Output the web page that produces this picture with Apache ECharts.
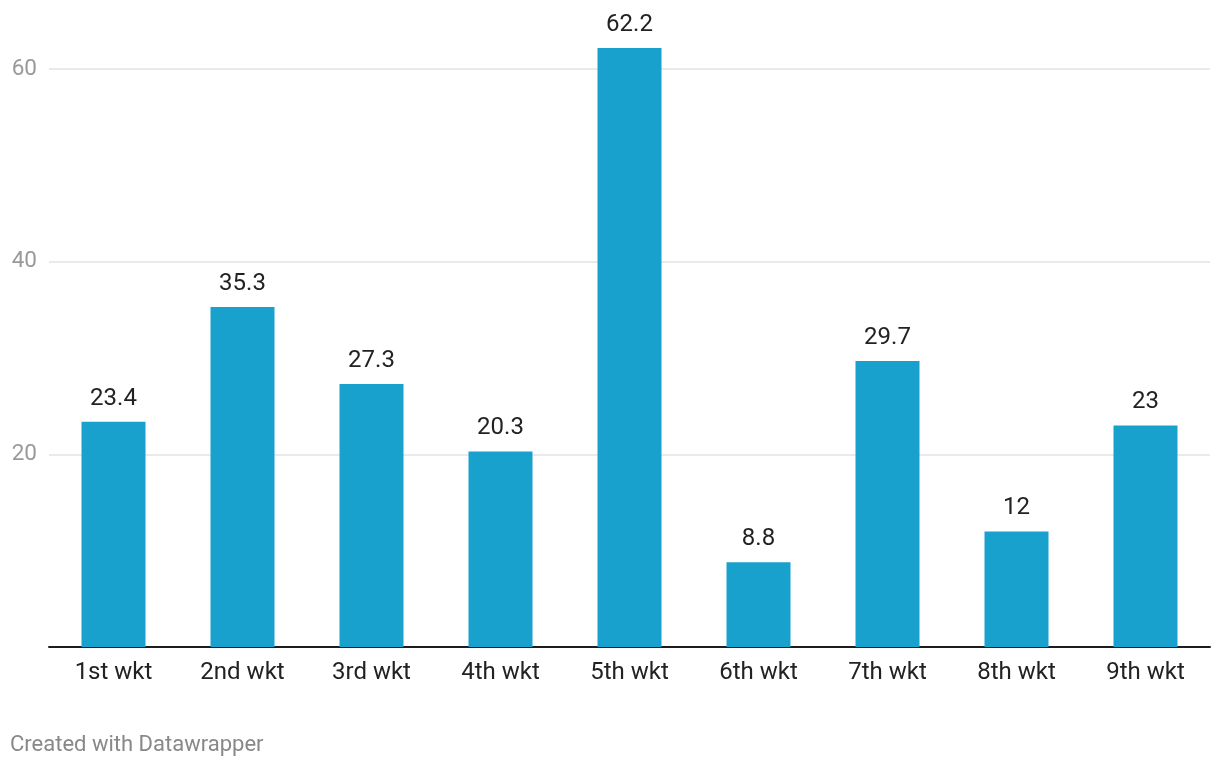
<!DOCTYPE html>
<html>
<head>
<meta charset="utf-8">
<script src="https://cdn.jsdelivr.net/npm/echarts@6/dist/echarts.min.js"></script>
<style>html,body{margin:0;padding:0;background:#fff;}#c{width:1220px;height:768px;}</style>
</head>
<body>
<div id="c"></div>
<script>
const categories = ['1st wkt','2nd wkt','3rd wkt','4th wkt','5th wkt','6th wkt','7th wkt','8th wkt','9th wkt'];
const values = [23.4, 35.3, 27.3, 20.3, 62.2, 8.8, 29.7, 12, 23];
const gridValues = [20, 40, 60];

const chart = echarts.init(document.getElementById('c'), null, {renderer:'canvas'});
chart.setOption({
  animation: false,
  backgroundColor: '#fff',
  textStyle: {fontFamily: 'Roboto'},
  grid: {left: 49, right: 10, top: 21, bottom: 121},
  graphic: [{
    type: 'text', left: 10, top: 734,
    style: {text: 'Created with Datawrapper', fill: '#888', font: '22px Roboto'}
  }],
  xAxis: {
    type: 'category', data: categories,
    axisTick: {show: false},
    axisLine: {lineStyle: {color: '#1d1d1d', width: 2}},
    axisLabel: {color: '#222', fontSize: 24, margin: 14, fontFamily: 'Roboto'}
  },
  yAxis: {
    type: 'value', min: 0, max: 65, interval: 20,
    splitLine: {show: false},
    axisLine: {show: false}, axisTick: {show: false},
    axisLabel: {color: '#999', fontSize: 22.5, margin: 12, showMinLabel: false, showMaxLabel: false, fontFamily: 'Roboto'}
  },
  series: [{
    type: 'line', data: [], z: 1, silent: true,
    markLine: {
      z: 1, silent: true, symbol: 'none', label: {show: false},
      lineStyle: {color: '#e3e3e3', width: 1.5, type: 'solid'},
      data: gridValues.map(v => ({yAxis: v}))
    }
  }, {
    type: 'bar', data: values, barWidth: 64,
    itemStyle: {color: '#18a1cd'},
    label: {show: true, position: 'top', distance: 11, color: '#222', fontSize: 24, fontFamily: 'Roboto'},
    z: 3
  }]
});
</script>
</body>
</html>
